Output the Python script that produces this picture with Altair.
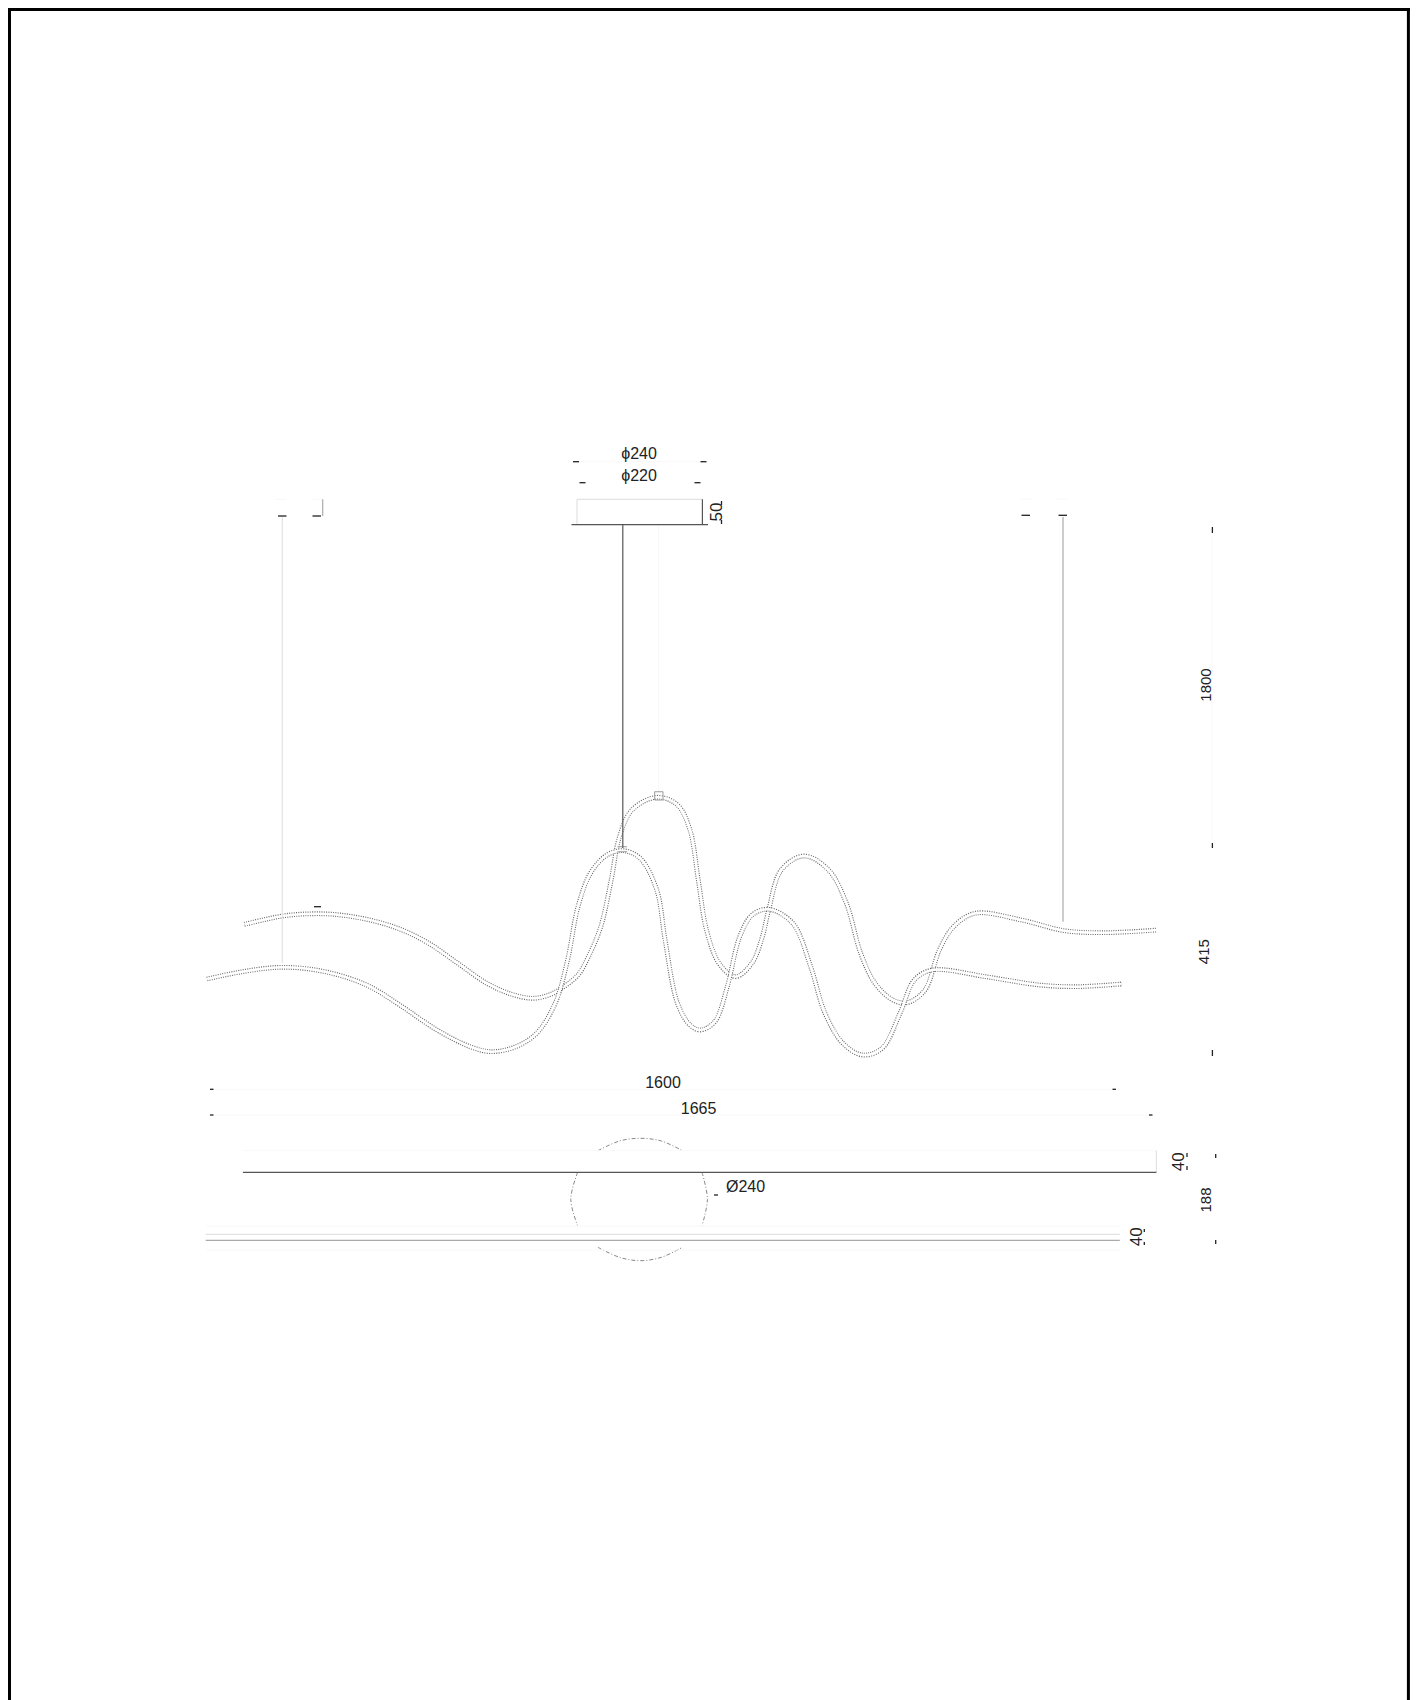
import altair as alt
import pandas as pd

STRIP_A = [(244.3,924.3),(262.9,920),(282.4,916),(304.4,914),(333.4,914.3),(366.6,919.3),(399.7,929),(428.8,943.3),
 (457.8,963.3),(486.8,983.3),(511.7,994.3),(532.4,998.3),(549,995),(561.4,988.3),(578,975),(588.4,956.7),(600.8,926.7),
 (611.2,880),(619.5,836.7),(631.9,810),(656.8,797.3),(677.5,805),(690,830),(698.3,880),(706.5,930),(719,963.3),
 (735.6,976.7),(752,963),(762,938),(768.7,910),(781.2,870),(804,856),(828.6,870),(846.4,903.3),(860.7,953.3),
 (875,983.3),(892.9,1000),(907.1,1002.7),(925,990),(939.3,950),(953.6,926.7),(975,913.3),(1021.4,920),(1064.3,930.7),
 (1103.6,932.7),(1157.1,930)]
STRIP_B = [(207,979),(242.2,971.7),(281.6,967.3),(325.1,971.7),(366.6,985),(399.7,1005),(437,1030),(470.2,1046.7),
 (490.9,1051.7),(515.8,1046.7),(536.6,1033.3),(555.2,1003.3),(567.6,960),(578,906.7),(590.4,873.3),(607,855),(623.6,850.7),
 (640.2,858.3),(656.8,890),(665.1,940),(677.5,1003.3),(690,1025),(700.3,1030),(714.8,1021.7),(727.3,986.7),(739.7,936.7),
 (752.1,915),(768.7,909.3),(792.9,923.3),(810.7,966.7),(825,1013.3),(842.9,1043.3),(862.5,1055),(882.1,1048.3),(900,1013.3),
 (914.3,980),(932.1,970),(985.7,976.7),(1039.3,985),(1075,986.7),(1121.4,984)]

ARC_TOP = [(597.9,1150.7),(619.5,1141),(639.8,1138.3),(661.4,1141),(682.4,1150.7)]
ARC_LEFT = [(577.6,1172.3),(570.8,1199.3),(577.6,1225.7)]
ARC_RIGHT = [(702,1172.3),(707.4,1199.3),(702,1225.7)]
ARC_BOTTOM = [(597.9,1247.3),(619.5,1257.3),(639.8,1260.7),(661.4,1257.3),(682.4,1247.3)]

FRAME = [(8,9.5,1410,9.5),(9.5,8,9.5,1700),(1408.4,8,1408.4,1700)]
DARK_LINES = [(571.5,524.7,708,524.7),(702.4,499.3,702.4,524.7),(622.8,525,622.8,848),(242.9,1172.3,1156.4,1172.3)]
MID_LINES = [(1063,517,1063,921.7),(205.7,1240.3,1119.8,1240.3),(322.7,499.3,322.7,516),(654.6,791.7,663,791.7),
 (654.6,800,663,800),(654.6,791.7,654.6,800),(663,791.7,663,800),(617.4,846.7,627,846.7),(617.4,851.7,627,851.7)]
LIGHT_LINES = [(282.3,517,282.3,963),(577,499.3,702.4,499.3),(577,499.3,577,524.7),(205.7,1234.3,1119.8,1234.3),
 (1156.4,1150.7,1156.4,1172.3)]
FAINT_LINES = [(658.4,525,658.4,795),(578,461.7,700.5,461.7),(276,499.3,286,499.3),(313,499.3,322.7,499.3),
 (1021,499,1031,499),(1057,499,1067,499),(1212,535,1212,840),(242.9,1150.7,1156.4,1150.7),(205.7,1226,1119.8,1226),
 (205.7,1250,1119.8,1250),(211.8,1089.3,1114.4,1089.3),(211.8,1115,1151,1115)]
TICKS = [(573,461.7,579,461.7),(700.5,461.7,706.5,461.7),(579.5,482.7,585.5,482.7),(694.5,482.7,700.5,482.7),
 (278,516,286.5,516),(312.5,516,321,516),(1021.5,515.3,1030,515.3),(1058.5,515.3,1067,515.3),(314,906.7,321,906.7),
 (721.5,501,721.5,505),(721.5,520,721.5,524),(1212.4,527,1212.4,533),(1212.4,843,1212.4,848),(1212.4,1050,1212.4,1056),
 (210,1089.3,213.5,1089.3),(1112.5,1089.3,1116,1089.3),(210,1115,213.5,1115),(1149,1115,1152.5,1115),
 (714,1195,718,1195),(1187,1153,1187,1157),(1187,1166,1187,1170),(1215.7,1154,1215.7,1158),(1215.7,1240,1215.7,1244),
 (1144.3,1229,1144.3,1232),(1144.3,1242,1144.3,1245)]

FLAT_LABELS = [("ϕ240",639,454),("ϕ220",639,475.7),("1600",663,1083),("1665",698.6,1109)]
LEFT_LABELS = [("Ø240",726,1187)]
TURNED_LABELS = [("1800",1205.6,685),("415",1203.6,951.7),("188",1206,1200)]
TURNED_SHORT = [("50",716.5,512),("40",1179.3,1161.7),("40",1136.7,1236.7)]

XS = alt.Scale(domain=[8,1410], nice=False, zero=False)
YS = alt.Scale(domain=[1700,8], nice=False, zero=False)

def rules(rows, color, width):
    df = pd.DataFrame(rows, columns=["x","y","x2","y2"])
    return alt.Chart(df).mark_rule(color=color, strokeWidth=width).encode(
        x=alt.X("x:Q", scale=XS, axis=None), y=alt.Y("y:Q", scale=YS, axis=None),
        x2="x2:Q", y2="y2:Q")

def curve(points, **mark):
    df = pd.DataFrame(points, columns=["x","y"]).reset_index()
    return alt.Chart(df).mark_line(interpolate="catmull-rom", **mark).encode(
        x=alt.X("x:Q", scale=XS, axis=None), y=alt.Y("y:Q", scale=YS, axis=None),
        order="index:Q")

def labels(rows, **mark):
    df = pd.DataFrame(rows, columns=["t","x","y"])
    return alt.Chart(df).mark_text(font="Liberation Sans", color="#222", baseline="middle", **mark).encode(
        x=alt.X("x:Q", scale=XS, axis=None), y=alt.Y("y:Q", scale=YS, axis=None), text="t:N")

layers = []
for s in (STRIP_A, STRIP_B):
    layers.append(curve(s, color="#666", strokeWidth=4.8, strokeDash=[1,1.3]))
    layers.append(curve(s, color="#fff", strokeWidth=2.6))
for arc in (ARC_TOP, ARC_LEFT, ARC_RIGHT, ARC_BOTTOM):
    layers.append(curve(arc, color="#888", strokeWidth=1, strokeDash=[4,2,1,2]))
layers += [
    rules(FAINT_LINES, "#f8f8f8", 1),
    rules(LIGHT_LINES, "#e2e2e2", 1.2),
    rules(MID_LINES, "#aaaaaa", 1.2),
    rules(DARK_LINES, "#555555", 1.2),
    rules(TICKS, "#222222", 1.3),
    rules(FRAME, "#000000", 3),
    labels(FLAT_LABELS, fontSize=16, align="center"),
    labels(LEFT_LABELS, fontSize=16, align="left"),
    labels(TURNED_LABELS, fontSize=15, align="center", angle=270),
    labels(TURNED_SHORT, fontSize=17, align="center", angle=270),
]

chart = alt.layer(*layers).properties(
    width=1402, height=1692, padding=0, autosize=alt.AutoSizeParams(type="none"), background="#ffffff"
).configure_view(stroke=None)

chart.save("out.html", embed_options={"renderer": "svg", "actions": False})
